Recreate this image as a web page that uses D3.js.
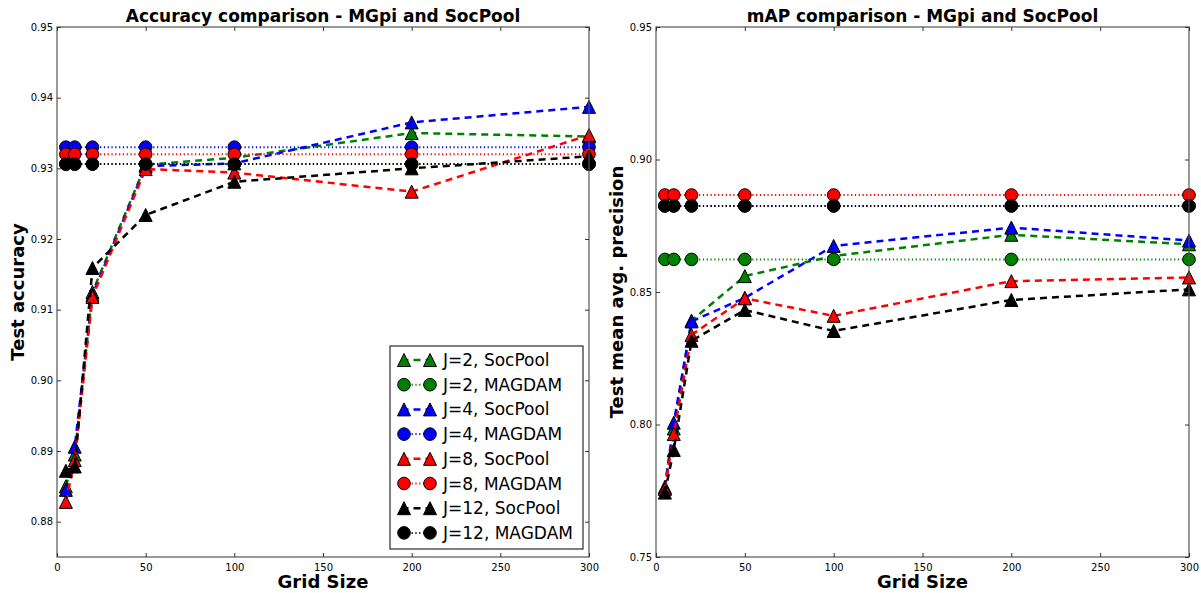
<!DOCTYPE html>
<html>
<head>
<meta charset="utf-8">
<script src="https://cdn.jsdelivr.net/npm/d3@7"></script>
<style>
    body { margin: 0; background: #fff; }
    svg { font-family: "DejaVu Sans", sans-serif; }
</style>
</head>
<body>
<svg id="drawing_region"></svg>
<script>
// grid sizes on the x axis
const gridSizes = [5, 10, 20, 50, 100, 200, 300];

const seriesNames = ["J=2, SocPool", "J=2, MAGDAM", "J=4, SocPool", "J=4, MAGDAM",
                     "J=8, SocPool", "J=8, MAGDAM", "J=12, SocPool", "J=12, MAGDAM"];

// test accuracy (left panel)
const accSocPoolJ2  = [0.8850, 0.8895, 0.9125, 0.9305, 0.9315, 0.9350, 0.9345];
const accMagdamJ2   = [0.9306, 0.9306, 0.9306, 0.9306, 0.9306, 0.9306, 0.9306];
const accSocPoolJ4  = [0.8845, 0.8906, 0.9121, 0.9303, 0.9307, 0.9365, 0.9387];
const accMagdamJ4   = [0.9330, 0.9330, 0.9330, 0.9330, 0.9330, 0.9330, 0.9330];
const accSocPoolJ8  = [0.8828, 0.8887, 0.9118, 0.9299, 0.9294, 0.9267, 0.9347];
const accMagdamJ8   = [0.9320, 0.9320, 0.9320, 0.9320, 0.9320, 0.9320, 0.9320];
const accSocPoolJ12 = [0.8872, 0.8878, 0.9159, 0.9234, 0.9281, 0.9300, 0.9317];
const accMagdamJ12  = [0.9306, 0.9306, 0.9306, 0.9306, 0.9306, 0.9306, 0.9306];

// test mean avg. precision (right panel)
const mapSocPoolJ2  = [0.7760, 0.7985, 0.8392, 0.8560, 0.8636, 0.8716, 0.8680];
const mapMagdamJ2   = [0.8623, 0.8623, 0.8623, 0.8623, 0.8623, 0.8623, 0.8623];
const mapSocPoolJ4  = [0.7764, 0.8007, 0.8389, 0.8478, 0.8674, 0.8743, 0.8694];
const mapMagdamJ4   = [0.8825, 0.8825, 0.8825, 0.8825, 0.8825, 0.8825, 0.8825];
const mapSocPoolJ8  = [0.7757, 0.7964, 0.8338, 0.8476, 0.8410, 0.8541, 0.8555];
const mapMagdamJ8   = [0.8866, 0.8866, 0.8866, 0.8866, 0.8866, 0.8866, 0.8866];
const mapSocPoolJ12 = [0.7743, 0.7904, 0.8316, 0.8432, 0.8353, 0.8470, 0.8510];
const mapMagdamJ12  = [0.8825, 0.8825, 0.8825, 0.8825, 0.8825, 0.8825, 0.8825];

const xTicks = [0, 50, 100, 150, 200, 250, 300];
const accTicks = [0.88, 0.89, 0.90, 0.91, 0.92, 0.93, 0.94, 0.95];
const mapTicks = [0.75, 0.80, 0.85, 0.90, 0.95];

// styles per series (same order as seriesNames)
const styles = [
    { color: '#008000', marker: 'tri', dash: '7,5' },
    { color: '#008000', marker: 'circ', dash: '1.2,2.6' },
    { color: '#0000ff', marker: 'tri', dash: '7,5' },
    { color: '#0000ff', marker: 'circ', dash: '1.2,2.6' },
    { color: '#ff0000', marker: 'tri', dash: '7,5' },
    { color: '#ff0000', marker: 'circ', dash: '1.2,2.6' },
    { color: '#000000', marker: 'tri', dash: '7,5' },
    { color: '#000000', marker: 'circ', dash: '1.2,2.6' }
];

const svg = d3.select('#drawing_region')
    .attr('width', 1201)
    .attr('height', 593);

function markerPath(type) {
    if (type === 'tri') {
        const s = 6.5;
        return `M0,${-s}L${s},${s}L${-s},${s}Z`;
    }
    return d3.symbol(d3.symbolCircle, Math.PI * 6.3 * 6.3)();
}

function drawPanel(cfg) {
    const w = cfg.right - cfg.left, h = cfg.bottom - cfg.top;
    const g = svg.append('g').attr('transform', `translate(${cfg.left},${cfg.top})`);

    const x = d3.scaleLinear().domain([0, 300]).range([0, w]);
    const y = d3.scaleLinear().domain(cfg.yDomain).range([h, 0]);

    // lines and markers, in legend order
    cfg.series.forEach((vals, i) => {
        const st = styles[i];
        const pts = gridSizes.map((gs, j) => [gs, vals[j]]);
        const line = d3.line().x(d => x(d[0])).y(d => y(d[1]));
        const sg = g.append('g');
        sg.append('path')
            .attr('d', line(pts))
            .attr('fill', 'none')
            .attr('stroke', st.color)
            .attr('stroke-width', st.marker === 'tri' ? 2.5 : 2)
            .attr('stroke-dasharray', st.dash);
        sg.selectAll('path.mk')
            .data(pts)
            .enter()
            .append('path')
            .attr('class', 'mk')
            .attr('transform', d => `translate(${x(d[0])},${y(d[1])})`)
            .attr('d', markerPath(st.marker))
            .attr('fill', st.color)
            .attr('stroke', 'black')
            .attr('stroke-width', 1);
    });

    // frame
    g.append('rect')
        .attr('width', w).attr('height', h)
        .attr('fill', 'none').attr('stroke', '#555').attr('stroke-width', 1.2);

    // inward ticks on all sides
    const tickLen = 4;
    g.append('g').attr('transform', `translate(0,${h})`)
        .call(d3.axisBottom(x).tickValues(xTicks).tickSizeInner(-tickLen).tickSizeOuter(0).tickPadding(7).tickFormat(d3.format('d')));
    g.append('g')
        .call(d3.axisTop(x).tickValues(xTicks).tickSizeInner(-tickLen).tickSizeOuter(0).tickFormat(''));
    g.append('g')
        .call(d3.axisLeft(y).tickValues(cfg.yTicks).tickSizeInner(-tickLen).tickSizeOuter(0).tickPadding(4).tickFormat(d3.format('.2f')));
    g.append('g').attr('transform', `translate(${w},0)`)
        .call(d3.axisRight(y).tickValues(cfg.yTicks).tickSizeInner(-tickLen).tickSizeOuter(0).tickFormat(''));
    g.selectAll('.domain').remove();
    g.selectAll('.tick line').attr('stroke', '#333');
    g.selectAll('.tick text').attr('font-size', '10px').attr('fill', '#000')
        .attr('font-family', '"DejaVu Sans", sans-serif');

    // title and axis labels
    svg.append('text')
        .attr('x', cfg.left + w / 2).attr('y', cfg.top - 5)
        .attr('text-anchor', 'middle')
        .style('font-size', '17px').style('font-weight', 'bold')
        .text(cfg.title);
    svg.append('text')
        .attr('x', cfg.left + w / 2).attr('y', 588)
        .attr('text-anchor', 'middle')
        .style('font-size', '18px').style('font-weight', 'bold')
        .text('Grid Size');
    svg.append('text')
        .attr('transform', `translate(${cfg.left - 33},${cfg.top + h / 2}) rotate(-90)`)
        .attr('text-anchor', 'middle')
        .style('font-size', '18px').style('font-weight', 'bold')
        .text(cfg.yLabel);

    if (cfg.legend) {
        const lw = 193, lh = 203;
        const lg = g.append('g').attr('transform', `translate(${w - 6 - lw},${h - 8 - lh})`);
        lg.append('rect').attr('width', lw).attr('height', lh)
            .attr('fill', 'white').attr('stroke', 'black').attr('stroke-width', 1);
        seriesNames.forEach((name, i) => {
            const st = styles[i];
            const ry = 14 + i * 24.7;
            const row = lg.append('g').attr('transform', `translate(0,${ry})`);
            row.append('line')
                .attr('x1', 14).attr('x2', 40).attr('y1', 0).attr('y2', 0)
                .attr('stroke', st.color)
                .attr('stroke-width', st.marker === 'tri' ? 2.5 : 2)
                .attr('stroke-dasharray', st.dash)
                .attr('stroke-dashoffset', st.marker === 'tri' ? 2.5 : 0);
            [14, 40].forEach(mx => {
                row.append('path')
                    .attr('transform', `translate(${mx},0)`)
                    .attr('d', markerPath(st.marker))
                    .attr('fill', st.color)
                    .attr('stroke', 'black')
                    .attr('stroke-width', 1);
            });
            row.append('text')
                .attr('x', 53).attr('y', 6)
                .style('font-size', '17px')
                .text(name);
        });
    }
}

drawPanel({
    left: 57, right: 589, top: 27, bottom: 557,
    yDomain: [0.875, 0.95], yTicks: accTicks,
    series: [accSocPoolJ2, accMagdamJ2, accSocPoolJ4, accMagdamJ4,
             accSocPoolJ8, accMagdamJ8, accSocPoolJ12, accMagdamJ12],
    title: 'Accuracy comparison - MGpi and SocPool',
    yLabel: 'Test accuracy',
    legend: true
});

drawPanel({
    left: 656, right: 1189, top: 27, bottom: 557,
    yDomain: [0.75, 0.95], yTicks: mapTicks,
    series: [mapSocPoolJ2, mapMagdamJ2, mapSocPoolJ4, mapMagdamJ4,
             mapSocPoolJ8, mapMagdamJ8, mapSocPoolJ12, mapMagdamJ12],
    title: 'mAP comparison - MGpi and SocPool',
    yLabel: 'Test mean avg. precision',
    legend: false
});
</script>
</body>
</html>
